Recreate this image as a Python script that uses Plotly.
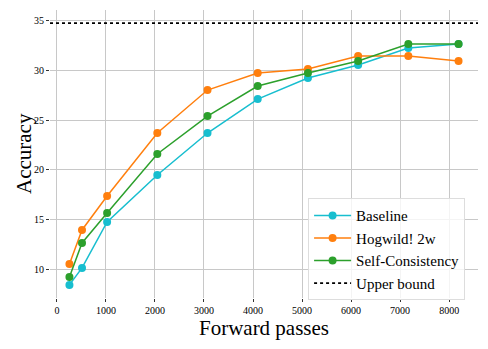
import plotly.graph_objects as go

# forward passes (x) and accuracy per method
passes = [256, 512, 1024, 2048, 3072, 4096, 5120, 6144, 7168, 8192]
baseline = [8.5, 10.2, 14.8, 19.5, 23.7, 27.1, 29.2, 30.5, 32.2, 32.6]
hogwild = [10.6, 14.0, 17.4, 23.7, 28.0, 29.7, 30.1, 31.4, 31.4, 30.9]
self_cons = [9.3, 12.7, 15.7, 21.6, 25.4, 28.4, 29.7, 30.9, 32.6, 32.6]
upper_bound = 34.7

x_ticks = [0, 1000, 2000, 3000, 4000, 5000, 6000, 7000, 8000]
y_ticks = [10, 15, 20, 25, 30, 35]

serif = "Liberation Serif"

fig = go.Figure()
series = [("Baseline", baseline, "#17becf"),
          ("Hogwild! 2w", hogwild, "#ff7f0e"),
          ("Self-Consistency", self_cons, "#2ca02c")]
for name, vals, col in series:
    fig.add_trace(go.Scatter(x=passes, y=vals, mode="lines+markers", name=name,
                             line=dict(color=col, width=1.5),
                             marker=dict(color=col, size=8)))

fig.add_shape(type="line", xref="paper", x0=0, x1=1, y0=upper_bound, y1=upper_bound,
              line=dict(color="black", width=1.6, dash="dot"),
              showlegend=True, name="Upper bound", layer="above")

# matplotlib-like 5% margins
xpad = (max(passes) - min(passes)) * 0.05
lo = min(baseline + hogwild + self_cons)
ypad = (upper_bound - lo) * 0.05

# page body has an 8px margin, so the figure is sized to fit the window
fig.update_layout(
    width=480, height=341,
    margin=dict(l=42, r=10, t=2, b=51),
    plot_bgcolor="white", paper_bgcolor="white",
    font=dict(family=serif, color="black"),
    legend=dict(x=0.603, y=0.346, xanchor="left", yanchor="top",
                bgcolor="rgba(255,255,255,0.8)", bordercolor="#dddddd", borderwidth=1,
                font=dict(size=15, family=serif), tracegroupgap=0, itemwidth=37),
    showlegend=True,
)
# y title as annotation so it can sit closer to the tick labels
fig.add_annotation(text="Accuracy", xref="paper", yref="paper", x=0, y=0.5,
                   xanchor="center", yanchor="middle", xshift=-26, textangle=-90,
                   showarrow=False, font=dict(size=21, family=serif))
fig.update_xaxes(range=[min(passes) - xpad, max(passes) + xpad], tickvals=x_ticks,
                 showgrid=True, gridcolor="#c8c8c8", gridwidth=1, zeroline=False,
                 ticks="outside", ticklen=3, tickcolor="#333", showline=False,
                 automargin=False,
                 tickfont=dict(size=10, family=serif),
                 title=dict(text="Forward passes", font=dict(size=21, family=serif), standoff=4))
fig.update_yaxes(range=[lo - ypad, upper_bound + ypad], tickvals=y_ticks,
                 showgrid=True, gridcolor="#c8c8c8", gridwidth=1, zeroline=False,
                 ticks="outside", ticklen=3, tickcolor="#333", showline=False,
                 automargin=False,
                 tickfont=dict(size=10, family=serif))

fig.write_html("out.html")
